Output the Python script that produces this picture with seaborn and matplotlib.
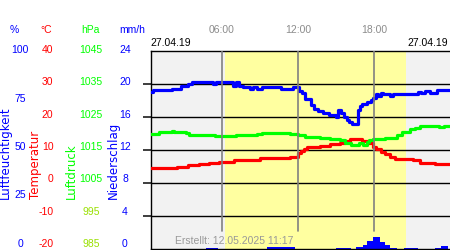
import matplotlib
matplotlib.use("Agg")
import matplotlib.pyplot as plt
import seaborn as sns
import pandas as pd

# ---------------- data (hours of day) ----------------
hum_t = [0.42, 0.65, 2.1, 2.8, 3.35, 3.7, 5.3, 5.55, 6.9, 7.1, 7.4, 7.7, 8.2, 8.5, 8.8, 9.2,
         10.7, 11.6, 12.05, 12.35, 12.55, 13.0, 13.25, 13.6, 14.0, 14.4, 15.0, 15.15, 15.4,
         15.6, 15.85, 16.0, 16.25, 16.7, 16.85, 17.0, 17.4, 17.7, 17.9, 18.1, 18.3, 18.5,
         18.65, 19.2, 19.5, 21.45, 21.7, 22.0, 22.4, 22.9, 23.94]
hum_v = [79.0, 79.9, 80.7, 81.9, 82.9, 83.9, 82.9, 83.9, 81.9, 83.9, 81.9, 81.5, 80.4, 81.5,
         80.4, 81.5, 80.5, 81.5, 79.5, 78.7, 75.7, 72.7, 70.7, 69.7, 68.7, 67.7, 66.7, 69.8,
         68.7, 66.5, 64.8, 64.0, 62.8, 69.8, 71.9, 72.9, 74.0, 75.2, 76.2, 77.9, 77.0, 78.7,
         77.9, 77.0, 77.9, 79.0, 78.7, 79.4, 78.7, 79.9, 79.9]

temp_t = [0.42, 2.5, 3.4, 4.2, 5.0, 5.8, 7.0, 9.0, 11.4, 12.0, 12.2, 12.45, 12.7, 13.7, 14.5,
          15.3, 15.7, 16.1, 17.0, 17.6, 17.9, 18.1, 18.5, 18.85, 19.25, 19.6, 21.0, 21.6,
          22.8, 23.94]
temp_v = [4.4, 4.8, 5.3, 5.8, 6.1, 6.4, 6.8, 7.6, 7.8, 9.0, 9.6, 10.1, 10.8, 11.1, 11.6,
          12.0, 12.6, 13.2, 12.6, 11.9, 10.8, 10.1, 9.3, 8.6, 7.8, 7.3, 6.8, 6.0, 5.6, 5.6]

pres_t = [0.42, 1.1, 2.1, 2.25, 3.2, 3.45, 5.5, 7.1, 8.8, 9.2, 10.6, 11.4, 12.0, 12.55, 13.1,
          13.7, 14.5, 15.3, 15.7, 16.2, 16.8, 17.1, 17.4, 17.6, 17.9, 18.8, 19.75, 20.2,
          20.8, 21.2, 21.55, 21.95, 23.1, 23.45, 23.94]
pres_v = [1019.9, 1020.3, 1020.6, 1020.3, 1020.0, 1019.6, 1019.3, 1019.6, 1019.9, 1020.2,
          1020.1, 1019.8, 1019.4, 1019.0, 1018.8, 1018.5, 1018.3, 1017.9, 1016.9, 1016.5,
          1016.9, 1016.5, 1017.3, 1017.8, 1018.3, 1018.7, 1019.6, 1020.4, 1021.2, 1021.6,
          1022.1, 1022.2, 1021.9, 1022.1, 1022.1]

prec_start = [4.8, 9.53, 14.97, 16.53, 17.1, 17.45, 17.9, 18.42, 18.81, 19.2, 20.3, 22.8, 23.2]
prec_end = [5.75, 11.75, 16.14, 17.1, 17.45, 17.9, 18.42, 18.81, 19.2, 19.75, 21.45, 23.2, 23.75]
prec_val = [0.15, 0.3, 0.15, 0.28, 0.45, 0.95, 1.4, 0.8, 0.48, 0.16, 0.16, 0.16, 0.4]

hum_ticks = [100, 75, 50, 25, 0]
temp_ticks = [40, 30, 20, 10, 0, -10, -20]
pres_ticks = [1045, 1035, 1025, 1015, 1005, 995, 985]
prec_ticks = [24, 20, 16, 12, 8, 4, 0]
time_ticks = [6, 12, 18]
time_labels = ["06:00", "12:00", "18:00"]
day_start, day_end = 6.28, 20.5
date_label = "27.04.19"
created = "Erstellt: 12.05.2025 11:17"

# ---------------- style ----------------
sns.set_theme(style="white")
plt.rcParams["font.family"] = ["Liberation Sans", "DejaVu Sans"]

W, H = 450, 250
fig = plt.figure(figsize=(W / 100, H / 100), dpi=100)
fig.patch.set_facecolor("white")
ax = fig.add_axes([150.5 / W, 1 / H, (W - 150.5) / W, (249 - 50.5) / H])
x0, x1 = 0.42, 23.94

BLUE, RED, GREEN = "#0000ff", "#ff0000", "#00ff00"

# primary axis: precipitation + background + grid
ax.set_xlim(x0, x1)
ax.set_ylim(0, 24)
ax.set_facecolor("#f2f2f2")
ax.axvspan(day_start, day_end, color="#ffffa0", zorder=0.2, lw=0)
ax.set_axisbelow(True)
ax.set_yticks(prec_ticks[1:-1])
ax.set_xticks([])
ax.grid(axis="y", color="black", lw=1.0)
ax.tick_params(left=False, labelleft=False, bottom=False, labelbottom=False)
for s in ["left", "top", "bottom"]:
    ax.spines[s].set_color("black")
    ax.spines[s].set_linewidth(1.0)
ax.spines["right"].set_visible(False)
widths = [e - s for s, e in zip(prec_start, prec_end)]
ax.bar(prec_start, prec_val, width=widths, align="edge", color=BLUE, lw=0, zorder=2)


def twin(lo, hi):
    a = ax.twinx()
    a.set_ylim(lo, hi)
    a.set_xlim(x0, x1)
    a.axis("off")
    return a


ax_h = twin(0, 100)
ax_t = twin(-20, 40)
ax_p = twin(985, 1045)

lw = 2.3
sns.lineplot(data=pd.DataFrame({"t": pres_t, "v": pres_v}), x="t", y="v", ax=ax_p,
             color=GREEN, lw=lw, drawstyle="steps-post", estimator=None, sort=False)
sns.lineplot(data=pd.DataFrame({"t": temp_t, "v": temp_v}), x="t", y="v", ax=ax_t,
             color=RED, lw=lw, drawstyle="steps-post", estimator=None, sort=False)
sns.lineplot(data=pd.DataFrame({"t": hum_t, "v": hum_v}), x="t", y="v", ax=ax_h,
             color=BLUE, lw=lw, drawstyle="steps-post", estimator=None, sort=False)
for a in (ax_h, ax_t, ax_p):
    a.set_xlim(x0, x1)
    a.axis("off")

# vertical time lines (on top)
for t in time_ticks:
    ax_p.axvline(t, ymin=0.09, ymax=1, color="#808080", lw=1.2, zorder=10)

# ---------------- texts ----------------
FS = 7.5


def ypix(p):
    return 1 - p / H


def col_labels(xc, ticks, colors, ha="center"):
    vmax, vmin = ticks[0], ticks[-1]
    for v, c in zip(ticks, colors):
        yp = 50 + (vmax - v) / (vmax - vmin) * 194
        fig.text(xc / W, ypix(yp), str(v), ha=ha, va="center", color=c, fontsize=FS)


col_labels(20, hum_ticks, [BLUE] * len(hum_ticks))
col_labels(53.5, temp_ticks, [RED] * len(temp_ticks), ha="right")
col_labels(91, pres_ticks, [GREEN] * 5 + ["#99e000"] * 2)
col_labels(125, prec_ticks, [BLUE] * len(prec_ticks))

for xc, txt, c in [(14, "%", BLUE), (46.5, "°C", RED), (90, "hPa", GREEN), (132, "mm/h", BLUE)]:
    fig.text(xc / W, ypix(30), txt, ha="center", va="center", color=c, fontsize=FS)

for xc, txt, c in [(5.5, "Luftfeuchtigkeit", BLUE), (35, "Temperatur", RED),
                   (71, "Luftdruck", GREEN), (113, "Niederschlag", BLUE)]:
    fig.text(xc / W, ypix(199), txt, rotation=90, ha="center", va="bottom", color=c,
             fontsize=8.5, family=["DejaVu Sans"])

fig.text(150 / W, ypix(43), date_label, ha="left", va="center", color="black", fontsize=FS)
fig.text(448 / W, ypix(43), date_label, ha="right", va="center", color="black", fontsize=FS)
for t, lab in zip(time_ticks, time_labels):
    ax.text(t, (249 - 30) / (249 - 50.5), lab, transform=ax.get_xaxis_transform(),
            ha="center", va="center", color="#8c8c8c", fontsize=FS)

fig.text(175 / W, ypix(241), created, ha="left", va="center", color="#999999", fontsize=FS)

fig.savefig("out.png", dpi=100, facecolor="white")
